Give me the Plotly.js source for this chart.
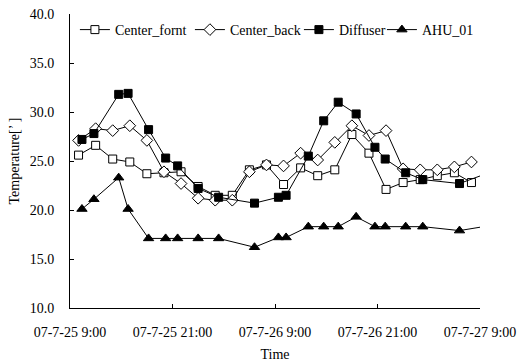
<!DOCTYPE html>
<html>
<head>
<meta charset="utf-8">
<script src="https://cdn.plot.ly/plotly-3.0.1.min.js"></script>
<style>
  html, body { margin: 0; padding: 0; background: #fff; }
  #chart { width: 527px; height: 364px; }
</style>
</head>
<body>
<div id="chart"></div>
<script>
// Sampling times of the two centre sensors (every two hours)
const centerTimes = [
  '2007-07-25 10:00', '2007-07-25 12:00', '2007-07-25 14:00', '2007-07-25 16:00',
  '2007-07-25 18:00', '2007-07-25 20:00', '2007-07-25 22:00', '2007-07-26 00:00',
  '2007-07-26 02:00', '2007-07-26 04:00', '2007-07-26 06:00', '2007-07-26 08:00',
  '2007-07-26 10:00', '2007-07-26 12:00', '2007-07-26 14:00', '2007-07-26 16:00',
  '2007-07-26 18:00', '2007-07-26 20:00', '2007-07-26 22:00', '2007-07-27 00:00',
  '2007-07-27 02:00', '2007-07-27 04:00', '2007-07-27 06:00', '2007-07-27 08:00'
];

// Sampling times of the diffuser and AHU readings
const probeTimes = [
  '2007-07-25 10:24', '2007-07-25 11:48', '2007-07-25 14:42', '2007-07-25 15:48',
  '2007-07-25 18:12', '2007-07-25 20:12', '2007-07-25 21:36', '2007-07-26 00:00',
  '2007-07-26 02:24', '2007-07-26 06:36', '2007-07-26 09:24', '2007-07-26 10:18',
  '2007-07-26 12:54', '2007-07-26 14:42', '2007-07-26 16:24', '2007-07-26 18:30',
  '2007-07-26 20:42', '2007-07-26 21:54', '2007-07-27 00:18', '2007-07-27 02:18',
  '2007-07-27 06:36', '2007-07-27 09:24'
];

const centerFornt = [25.6, 26.6, 25.2, 24.9, 23.7, 23.8, 23.9, 22.4, 21.5, 21.5, 24.1, 24.6,
                     22.6, 24.3, 23.5, 24.1, 27.7, 25.8, 22.1, 22.8, 23.1, 23.5, 23.8, 22.8];
const centerBack  = [27.1, 28.3, 28.1, 28.6, 27.1, 23.9, 22.7, 21.2, 21.0, 21.0, 23.9, 24.6,
                     24.5, 25.8, 25.1, 26.9, 28.6, 27.6, 28.1, 24.2, 24.1, 24.1, 24.4, 24.9];
const diffuser    = [27.2, 27.8, 31.8, 31.9, 28.2, 25.3, 24.5, 22.2, 21.3, 20.7, 21.3,
                     21.5, 25.5, 29.1, 31.0, 29.8, 26.4, 25.2, 23.8, 23.1, 22.7, 23.6];
const ahu01       = [20.1, 21.1, 23.3, 20.1, 17.1, 17.1, 17.1, 17.1, 17.1, 16.2, 17.2,
                     17.2, 18.3, 18.3, 18.3, 19.3, 18.3, 18.3, 18.3, 18.3, 17.9, 18.3];

const seriesNames = ['Center_fornt', 'Center_back', 'Diffuser', 'AHU_01'];
const yTickVals = [10, 15, 20, 25, 30, 35, 40];

const serif = '"Liberation Serif", "Times New Roman", serif';
const lineStyle = { color: '#000', width: 1 };

function series(name, x, y, symbol, fill, size, entryWidth) {
  return {
    type: 'scatter', mode: 'lines+markers', name: name, x: x, y: y,
    line: lineStyle, cliponaxis: false, legendwidth: entryWidth,
    marker: { symbol: symbol, size: size, color: fill, line: { color: '#000', width: 1 } }
  };
}

const traces = [
  series(seriesNames[0], centerTimes, centerFornt, 'square', '#fff', 8, 70),
  series(seriesNames[1], centerTimes, centerBack, 'diamond', '#fff', 9, 64),
  series(seriesNames[2], probeTimes, diffuser, 'square', '#000', 8, 38),
  series(seriesNames[3], probeTimes, ahu01, 'triangle-up', '#000', 9, 55)
];

const layout = {
  width: 527, height: 364,
  margin: { l: 70, r: 47, t: 14, b: 56 },
  paper_bgcolor: '#fff', plot_bgcolor: '#fff',
  font: { family: serif, size: 14, color: '#000' },
  showlegend: true,
  legend: {
    orientation: 'h', xref: 'paper', yref: 'paper',
    x: 0.012, y: 1.0, xanchor: 'left', yanchor: 'top',
    bgcolor: 'rgba(0,0,0,0)', font: { family: serif, size: 14, color: '#000' },
    itemwidth: 30, tracegroupgap: 0
  },
  xaxis: {
    type: 'date',
    range: ['2007-07-25 09:00', '2007-07-27 09:00'],
    tick0: '2007-07-25 09:00', dtick: 12 * 3600 * 1000,
    tickformat: '%y-%-m-%-d %-H:%M',
    showline: true, linecolor: '#000', linewidth: 1, mirror: false,
    ticks: 'inside', ticklen: 4, tickcolor: '#000',
    showgrid: false, zeroline: false,
    ticklabelstandoff: 11,
    title: { text: 'Time', font: { family: serif, size: 14 }, standoff: 10 }
  },
  yaxis: {
    range: [10, 40], tickvals: yTickVals, tickformat: '.1f',
    showline: true, linecolor: '#000', linewidth: 1,
    ticks: 'inside', ticklen: 4, tickcolor: '#000',
    showgrid: false, zeroline: false,
    ticklabelstandoff: 12,
    title: { text: 'Temperature[’ ]', font: { family: serif, size: 14 }, standoff: 6 }
  }
};

Plotly.newPlot('chart', traces, layout, { displayModeBar: false, staticPlot: true });
</script>
</body>
</html>
